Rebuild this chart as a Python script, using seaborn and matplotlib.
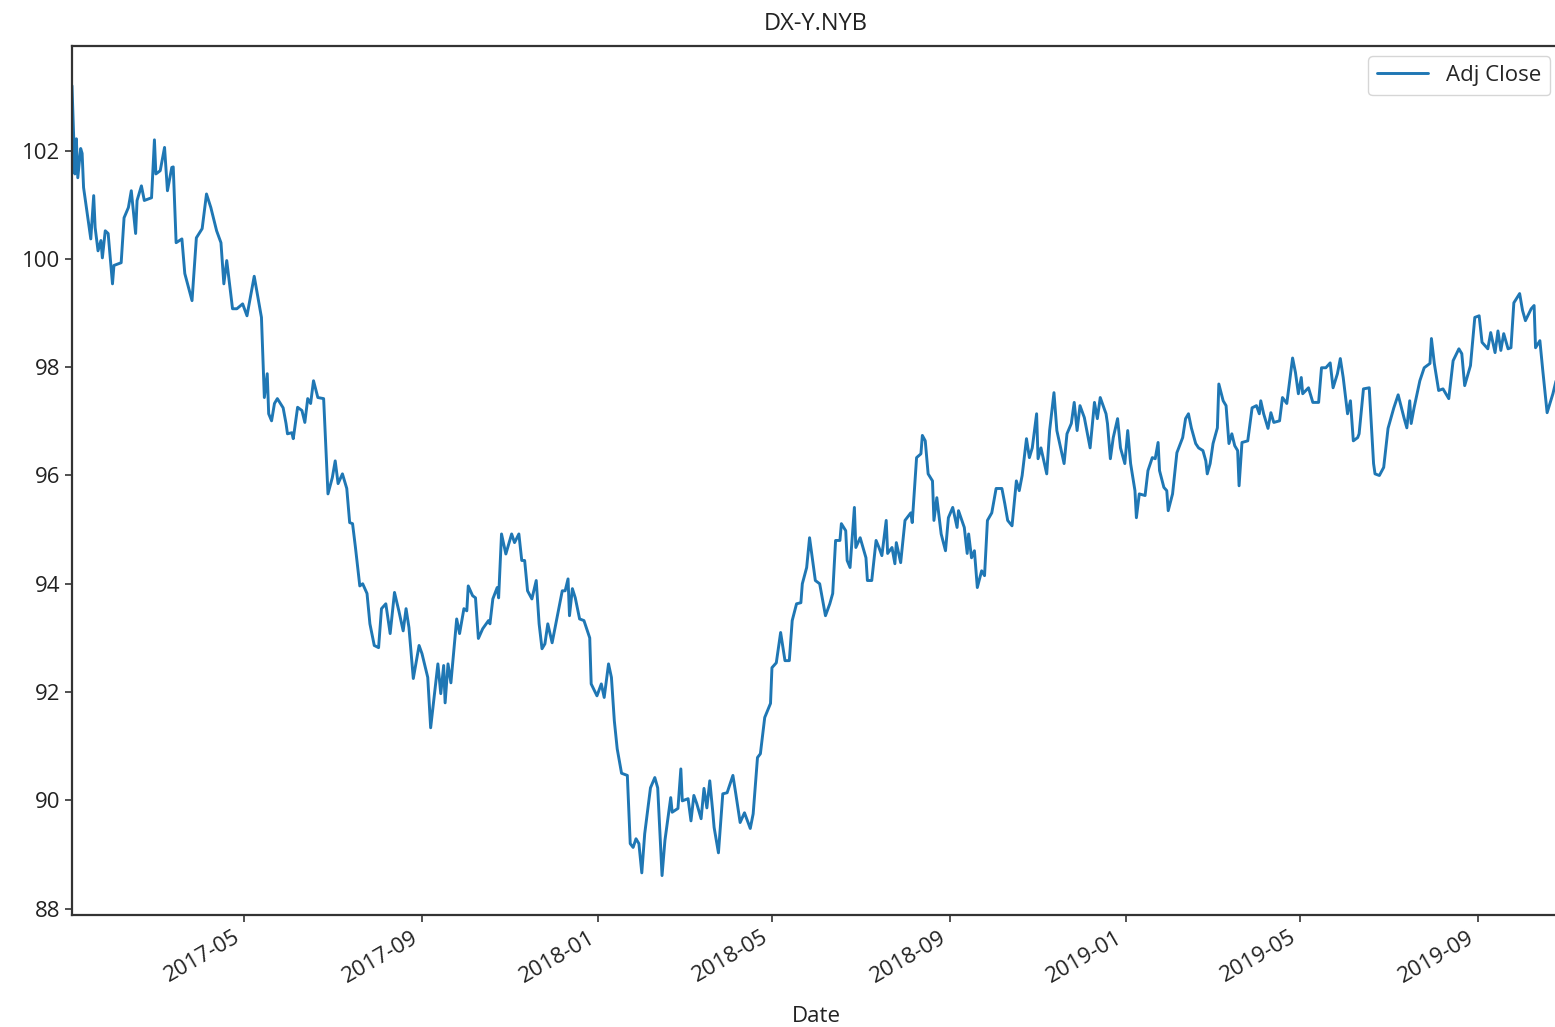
import pandas as pd
import seaborn as sns
import matplotlib.pyplot as plt
import matplotlib.dates as mdates

# DX-Y.NYB adjusted close (days counted from 2017-01-01)
start_date = "2017-01-01"
days = [
    1, 3, 4, 5, 7, 8, 9, 14, 16, 17,
    19, 21, 22, 24, 26, 29, 30, 35, 37, 40,
    42, 45, 46, 49, 51, 56, 58, 59, 62, 65,
    67, 70, 71, 73, 77, 79, 84, 87, 91, 94,
    97, 101, 104, 106, 108, 112, 115, 119, 122, 127,
    130, 132, 134, 136, 137, 139, 141, 143, 147, 149,
    150, 153, 154, 157, 160, 162, 164, 166, 168, 171,
    175, 178, 181, 183, 185, 188, 191, 193, 195, 197,
    200, 202, 205, 207, 210, 213, 215, 218, 221, 224,
    227, 230, 232, 234, 237, 241, 243, 247, 249, 254,
    256, 258, 259, 261, 263, 267, 269, 272, 274, 275,
    278, 280, 282, 285, 289, 290, 292, 295, 296, 298,
    301, 305, 307, 310, 312, 314, 316, 319, 322, 324,
    326, 328, 330, 333, 336, 340, 342, 344, 345, 347,
    349, 352, 355, 359, 360, 364, 367, 369, 372, 374,
    376, 378, 381, 385, 387, 389, 391, 393, 395, 397,
    401, 404, 406, 409, 411, 415, 416, 420, 422, 423,
    427, 429, 431, 433, 436, 438, 440, 442, 444, 445,
    448, 451, 454, 458, 460, 463, 466, 470, 472, 475,
    477, 480, 484, 485, 488, 491, 494, 497, 499, 502,
    505, 506, 509, 511, 515, 518, 522, 525, 527, 529,
    532, 533, 536, 537, 539, 542, 543, 546, 550, 551,
    554, 557, 559, 561, 564, 565, 568, 570, 571, 574,
    577, 581, 582, 585, 588, 589, 591, 593, 596, 597,
    599, 602, 605, 607, 610, 613, 614, 618, 620, 621,
    623, 625, 627, 630, 632, 634, 637, 640, 644, 646,
    648, 651, 654, 656, 658, 661, 663, 665, 668, 669,
    671, 675, 677, 680, 682, 687, 689, 692, 694, 696,
    698, 701, 705, 708, 710, 712, 716, 717, 719, 721,
    724, 726, 729, 731, 733, 736, 737, 739, 743, 745,
    748, 750, 752, 753, 756, 758, 759, 762, 765, 769,
    771, 773, 775, 778, 780, 783, 785, 786, 788, 790,
    793, 794, 797, 799, 801, 803, 805, 807, 808, 810,
    814, 817, 820, 822, 823, 825, 828, 830, 832, 836,
    838, 841, 843, 845, 847, 849, 851, 852, 856, 859,
    863, 865, 868, 871, 873, 876, 878, 880, 883, 885,
    887, 890, 891, 894, 898, 901, 902, 905, 908, 911,
    915, 918, 922, 924, 926, 927, 929, 933, 936, 940,
    941, 943, 946, 949, 953, 956, 960, 962, 964, 968,
    971, 974, 976, 980, 982, 985, 987, 989, 991, 994,
    996, 998, 1002, 1004, 1006, 1010, 1012, 1013, 1016, 1018,
    1021, 1025, 1028, 1030,
]
adj_close = [
    103.2, 101.57, 102.22, 101.5, 102.04, 101.95, 101.32, 100.37, 101.17, 100.58,
    100.15, 100.34, 100.02, 100.52, 100.47, 99.54, 99.88, 99.93, 100.76, 100.95,
    101.26, 100.47, 101.08, 101.35, 101.08, 101.13, 102.2, 101.57, 101.63, 102.06,
    101.26, 101.69, 101.7, 100.3, 100.37, 99.73, 99.23, 100.39, 100.56, 101.2,
    100.95, 100.52, 100.3, 99.54, 99.97, 99.08, 99.08, 99.17, 98.95, 99.68,
    99.23, 98.92, 97.44, 97.88, 97.14, 97.01, 97.33, 97.42, 97.25, 96.96,
    96.77, 96.79, 96.68, 97.26, 97.2, 96.98, 97.42, 97.33, 97.75, 97.44,
    97.42, 95.66, 95.96, 96.27, 95.85, 96.03, 95.76, 95.13, 95.11, 94.67,
    93.96, 94.0, 93.82, 93.26, 92.86, 92.82, 93.54, 93.63, 93.08, 93.84,
    93.5, 93.13, 93.54, 93.19, 92.25, 92.86, 92.71, 92.27, 91.34, 92.52,
    91.97, 92.49, 91.8, 92.52, 92.17, 93.35, 93.08, 93.54, 93.5, 93.96,
    93.78, 93.74, 92.99, 93.17, 93.32, 93.26, 93.72, 93.93, 93.74, 94.92,
    94.55, 94.92, 94.76, 94.92, 94.43, 94.43, 93.87, 93.72, 94.06, 93.26,
    92.8, 92.89, 93.26, 92.91, 93.32, 93.87, 93.87, 94.09, 93.41, 93.91,
    93.74, 93.35, 93.32, 93.0, 92.15, 91.93, 92.15, 91.9, 92.52, 92.27,
    91.47, 90.95, 90.5, 90.46, 89.2, 89.13, 89.29, 89.2, 88.66, 89.38,
    90.23, 90.42, 90.23, 88.61, 89.26, 90.05, 89.78, 89.85, 90.58, 89.99,
    90.03, 89.62, 90.09, 89.94, 89.66, 90.22, 89.86, 90.36, 89.81, 89.5,
    89.03, 90.12, 90.14, 90.46, 90.12, 89.59, 89.77, 89.48, 89.75, 90.79,
    90.86, 91.53, 91.79, 92.45, 92.54, 93.1, 92.58, 92.58, 93.32, 93.63,
    93.65, 94.0, 94.3, 94.85, 94.06, 94.0, 93.41, 93.63, 93.82, 94.8,
    94.8, 95.11, 94.98, 94.43, 94.3, 95.41, 94.67, 94.85, 94.48, 94.06,
    94.06, 94.8, 94.67, 94.52, 95.17, 94.56, 94.67, 94.37, 94.76, 94.39,
    95.17, 95.31, 95.13, 96.33, 96.4, 96.74, 96.64, 96.03, 95.9, 95.17,
    95.59, 94.92, 94.61, 95.22, 95.41, 95.04, 95.35, 95.04, 94.56, 94.92,
    94.48, 94.61, 93.93, 94.24, 94.15, 95.17, 95.31, 95.76, 95.76, 95.48,
    95.17, 95.07, 95.9, 95.72, 96.0, 96.68, 96.33, 96.51, 97.14, 96.31,
    96.51, 96.03, 96.83, 97.53, 96.83, 96.22, 96.77, 96.96, 97.35, 96.83,
    97.29, 97.07, 96.51, 97.35, 97.05, 97.44, 97.14, 96.96, 96.31, 96.7,
    97.05, 96.51, 96.22, 96.83, 96.22, 95.72, 95.22, 95.66, 95.63, 96.09,
    96.33, 96.31, 96.61, 96.09, 95.78, 95.72, 95.35, 95.66, 96.42, 96.7,
    97.05, 97.14, 96.88, 96.59, 96.51, 96.46, 96.27, 96.03, 96.22, 96.59,
    96.88, 97.69, 97.38, 97.29, 96.59, 96.77, 96.55, 96.46, 95.81, 96.61,
    96.64, 97.25, 97.29, 97.14, 97.38, 97.14, 96.87, 97.16, 96.98, 97.01,
    97.44, 97.33, 97.75, 98.17, 97.9, 97.51, 97.81, 97.51, 97.62, 97.35,
    97.35, 97.99, 97.99, 98.08, 97.62, 97.88, 98.16, 97.81, 97.14, 97.38,
    96.64, 96.7, 96.77, 97.6, 97.62, 96.22, 96.03, 96.0, 96.15, 96.87,
    97.25, 97.49, 97.07, 96.88, 97.38, 96.96, 97.25, 97.75, 97.99, 98.07,
    98.53, 98.07, 97.57, 97.6, 97.42, 98.12, 98.34, 98.25, 97.66, 98.03,
    98.92, 98.95, 98.46, 98.34, 98.64, 98.27, 98.67, 98.31, 98.62, 98.34,
    98.36, 99.19, 99.36, 99.05, 98.86, 99.08, 99.14, 98.36, 98.49, 97.94,
    97.16, 97.51, 97.84, 97.5,
]
assert len(days) == len(adj_close)

title = "DX-Y.NYB"
series_name = "Adj Close"
tick_months = [1, 5, 9]


def main():
    df = pd.DataFrame({
        "Date": pd.Timestamp(start_date) + pd.to_timedelta(days, unit="D"),
        series_name: adj_close,
    })

    sns.set_style("white", {
        "axes.edgecolor": "#333333",
        "xtick.bottom": True,
        "ytick.left": True,
        "xtick.color": "#333333",
        "ytick.color": "#333333",
    })
    plt.rcParams["font.family"] = ["Open Sans", "DejaVu Sans"]
    plt.rcParams["axes.linewidth"] = 1.6

    fig = plt.figure(figsize=(15.55, 10.27), dpi=100)
    ax = fig.add_axes([0.0463, 0.109, 0.957, 0.846])

    sns.lineplot(data=df, x="Date", y=series_name, ax=ax, color="#1f77b4",
                 linewidth=2.1, label=series_name, estimator=None)

    ax.set_xlim(df["Date"].iloc[0], df["Date"].iloc[-1])
    ax.margins(y=0.05)
    ax.xaxis.set_major_locator(mdates.MonthLocator(bymonth=tick_months))
    ax.xaxis.set_major_formatter(mdates.DateFormatter("%Y-%m"))
    ax.tick_params(axis="both", labelsize=16, length=5, width=1.2,
                   colors="#333333", labelcolor="#222222")
    for lbl in ax.get_xticklabels():
        lbl.set_rotation(30)
        lbl.set_horizontalalignment("right")

    ax.set_title(title, fontsize=17, pad=12, color="#222222")
    ax.set_xlabel("Date", fontsize=16, labelpad=14, color="#222222")
    ax.set_ylabel("")
    ax.legend(loc="upper right", fontsize=16, borderaxespad=0.45,
              handlelength=2.3)

    fig.savefig("out.png", dpi=100)
    plt.close(fig)


if __name__ == "__main__":
    main()
